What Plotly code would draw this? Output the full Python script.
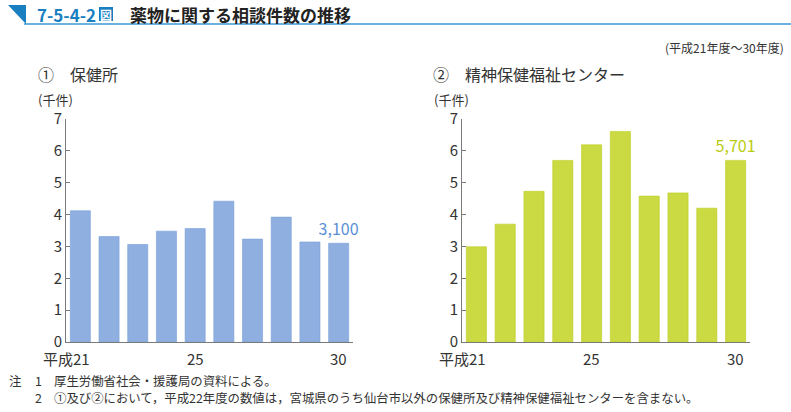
import plotly.graph_objects as go

years = [21, 22, 23, 24, 25, 26, 27, 28, 29, 30]
tick_years = [21, 25, 30]
tick_labels = ["平成21", "25", "30"]
hokenjo = [4.12, 3.31, 3.06, 3.48, 3.56, 4.42, 3.23, 3.92, 3.14, 3.100]
seishin = [2.99, 3.70, 4.73, 5.70, 6.19, 6.61, 4.58, 4.68, 4.20, 5.701]
last_labels = ["3,100", "5,701"]

FONT = "Noto Sans CJK JP"
W, H = 791, 412


def px_x(p):
    return p / W


def px_y(p):
    return 1 - p / H


fig = go.Figure()

panels = [
    dict(vals=hokenjo, color="#8eafe0", line="#7aa0d8", lab=last_labels[0], labcol="#5b8fd6",
         xd=[66, 353], xa="x", ya="y"),
    dict(vals=seishin, color="#cbd942", line="#bccf22", lab=last_labels[1], labcol="#b9cc12",
         xd=[462, 750], xa="x2", ya="y2"),
]

for i, p in enumerate(panels):
    texts = [""] * (len(years) - 1) + [p["lab"]]
    fig.add_trace(go.Bar(
        x=years, y=p["vals"], xaxis=p["xa"], yaxis=p["ya"],
        marker=dict(color=p["color"], line=dict(color=p["line"], width=0.6)),
        text=texts, textposition="outside", cliponaxis=False, constraintext="none",
        textfont=dict(family=FONT, size=16, color=p["labcol"]),
        showlegend=False, hoverinfo="skip",
    ))
    sfx = "" if i == 0 else "2"
    fig.layout["xaxis" + sfx] = dict(
        domain=[px_x(p["xd"][0]), px_x(p["xd"][1])], anchor="y" + sfx,
        range=[20.5, 30.5], showticklabels=False, ticks="", automargin=False,
        showline=True, linecolor="#7a7a7a", linewidth=1, showgrid=False, zeroline=False,
    )
    fig.layout["yaxis" + sfx] = dict(
        domain=[px_y(342), px_y(119)], anchor="x" + sfx, automargin=False,
        range=[0, 7], tickvals=list(range(8)), ticks="inside", ticklen=4,
        tickcolor="#7a7a7a", showline=True, linecolor="#7a7a7a", linewidth=1,
        showgrid=False, zeroline=False,
        tickfont=dict(family=FONT, size=15, color="#333333"),
    )
    for ty, tl in zip(tick_years, tick_labels):
        fig.add_annotation(
            x=ty, y=0, xref=p["xa"], yref=p["ya"], text=tl, showarrow=False,
            yanchor="top", yshift=-4, xshift=(-14 if tl.startswith("平成") else 0),
            font=dict(family=FONT, size=15, color="#333333"),
        )
    fig.add_annotation(
        x=px_x(p["xd"][0] - 30), y=px_y(99), xref="paper", yref="paper",
        text="(千件)", showarrow=False, xanchor="left", yanchor="middle",
        font=dict(family=FONT, size=13, color="#333333"),
    )

shapes = [
    dict(type="path", xref="paper", yref="paper",
         path=f"M {px_x(8)} {px_y(5)} L {px_x(26)} {px_y(5)} L {px_x(26)} {px_y(24)} Z",
         fillcolor="#1a7fc1", line=dict(width=0)),
    dict(type="line", xref="paper", yref="paper", x0=px_x(24), x1=1, y0=px_y(24), y1=px_y(24),
         line=dict(color="#3d97d3", width=1.5)),
    dict(type="rect", xref="paper", yref="paper", x0=px_x(99), x1=px_x(113),
         y0=px_y(21), y1=px_y(7), fillcolor="#1a7fc1", line=dict(width=0)),
]

ann = [
    dict(x=px_x(35), y=px_y(15), text="<b>7-5-4-2</b>", xanchor="left",
         font=dict(family=FONT, size=17, color="#1a7fc1")),
    dict(x=px_x(106), y=px_y(14.5), text="<b>図</b>", xanchor="center",
         font=dict(family=FONT, size=12, color="white")),
    dict(x=px_x(128), y=px_y(15), text="<b>薬物に関する相談件数の推移</b>", xanchor="left",
         font=dict(family=FONT, size=17, color="#222222")),
    dict(x=px_x(786), y=px_y(47), text="(平成21年度～30年度)", xanchor="right",
         font=dict(family=FONT, size=12, color="#333333")),
    dict(x=px_x(36), y=px_y(74), text="①　保健所", xanchor="left",
         font=dict(family=FONT, size=16, color="#333333")),
    dict(x=px_x(431), y=px_y(74), text="②　精神保健福祉センター", xanchor="left",
         font=dict(family=FONT, size=16, color="#333333")),
    dict(x=px_x(7), y=px_y(381), text="注", xanchor="left",
         font=dict(family=FONT, size=12.4, color="#333333")),
    dict(x=px_x(38), y=px_y(381), text="1", xanchor="center",
         font=dict(family=FONT, size=12.4, color="#333333")),
    dict(x=px_x(52), y=px_y(381), text="厚生労働省社会・援護局の資料による。", xanchor="left",
         font=dict(family=FONT, size=12.4, color="#333333")),
    dict(x=px_x(38), y=px_y(398), text="2", xanchor="center",
         font=dict(family=FONT, size=12.4, color="#333333")),
    dict(x=px_x(52), y=px_y(398),
         text="①及び②において，平成22年度の数値は，宮城県のうち仙台市以外の保健所及び精神保健福祉センターを含まない。",
         xanchor="left", font=dict(family=FONT, size=12.4, color="#333333")),
]
for a in ann:
    a.update(xref="paper", yref="paper", showarrow=False, yanchor="middle")
    fig.add_annotation(**a)

fig.update_layout(
    width=W, height=H, margin=dict(l=0, r=0, t=0, b=0, autoexpand=False),
    shapes=shapes,
    paper_bgcolor="white", plot_bgcolor="white",
    bargap=0.3, font=dict(family=FONT),
)

fig.write_html("out.html", config={"displayModeBar": False},
               post_script="document.body.style.margin='0';")
